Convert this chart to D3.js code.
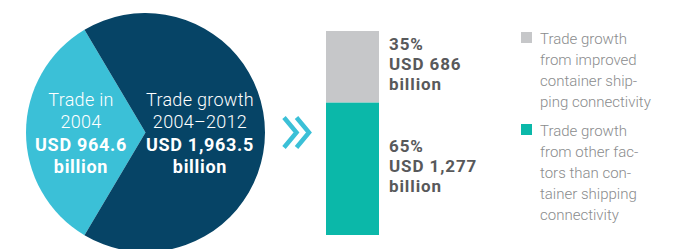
<!DOCTYPE html>
<html>
<head>
<meta charset="utf-8">
<script src="https://cdn.jsdelivr.net/npm/d3@7"></script>
<style>
  html, body { margin: 0; padding: 0; background: #fff; }
  svg { display: block; }
</style>
</head>
<body>
<svg></svg>
<script>
// pie: trade in 2004 vs trade growth 2004-2012
const pieNames = ['Trade in 2004', 'Trade growth 2004–2012'];
const pieValues = [964.6, 1963.5];
const pieLines = [
  ['Trade in', '2004', 'USD 964.6', 'billion'],
  ['Trade growth', '2004–2012', 'USD 1,963.5', 'billion']
];

// stacked bar: split of the growth
const barKeys = ['other', 'connectivity'];
const barShares = [65, 35];
const barLines = [
  ['65%', 'USD 1,277', 'billion'],
  ['35%', 'USD 686', 'billion']
];

const legendLines = [
  ['Trade growth', 'from improved', 'container ship-', 'ping connectivity'],
  ['Trade growth', 'from other fac-', 'tors than con-', 'tainer shipping', 'connectivity']
];
const legendKeys = ['connectivity', 'other'];

const colors = {
  pieLight: '#3bc0d7',
  pieDark: '#064466',
  other: '#0bb8a9',
  connectivity: '#c6c7c9'
};

const width = 687, height = 249;
const svg = d3.select('svg').attr('width', width).attr('height', height);
const font = 'Roboto, "Open Sans", sans-serif';

// ---- pie ----
const cx = 145.5, cy = 132.5, r = 119.5;
const lightAngle = 2 * Math.PI * pieValues[0] / d3.sum(pieValues);
const start = -Math.PI / 2 - lightAngle / 2;
const pie = d3.pie().sort(null).startAngle(start).endAngle(start + 2 * Math.PI);
const arc = d3.arc().innerRadius(0).outerRadius(r);

const pieG = svg.append('g').attr('transform', `translate(${cx},${cy})`);
pieG.selectAll('path')
  .data(pie(pieValues))
  .enter()
  .append('path')
  .attr('d', arc)
  .attr('fill', (d, i) => i === 0 ? colors.pieLight : colors.pieDark);

// labels inside pie
const pieLabelX = [81 - cx, 200 - cx];
pieLines.forEach((lines, i) => {
  const t = pieG.append('text')
    .attr('text-anchor', 'middle')
    .attr('font-family', font)
    .attr('font-size', 18)
    .attr('fill', '#fff');
  lines.forEach((ln, j) => {
    t.append('tspan')
      .attr('x', pieLabelX[i])
      .attr('y', 106 - cy + j * 22.3)
      .attr('font-weight', j >= 2 ? 700 : 300)
      .attr('letter-spacing', j >= 2 ? 0.7 : 0.3)
      .text(ln);
  });
});

// ---- chevrons ----
const chev = svg.append('g')
  .attr('fill', 'none')
  .attr('stroke', colors.pieLight)
  .attr('stroke-width', 4.5);
[0, 12.5].forEach(dx => {
  const p = d3.path();
  p.moveTo(284 + dx, 117.5);
  p.lineTo(296.5 + dx, 132.5);
  p.lineTo(284 + dx, 147.5);
  chev.append('path').attr('d', p.toString());
});

// ---- stacked bar ----
const y = d3.scaleLinear().domain([0, 100]).range([235, 31]);
const barX = 326, barW = 53;
const stackRow = {};
barKeys.forEach((k, i) => stackRow[k] = barShares[i]);
const series = d3.stack().keys(barKeys)([stackRow]);

svg.append('g').selectAll('rect')
  .data(series)
  .enter()
  .append('rect')
  .attr('x', barX)
  .attr('width', barW)
  .attr('y', d => y(d[0][1]))
  .attr('height', d => y(d[0][0]) - y(d[0][1]))
  .attr('fill', d => colors[d.key]);

series.forEach((s, i) => {
  const mid = (y(s[0][0]) + y(s[0][1])) / 2;
  const t = svg.append('text')
    .attr('font-family', font)
    .attr('font-size', 17)
    .attr('font-weight', 700)
    .attr('letter-spacing', 0.9)
    .attr('fill', '#58595b');
  barLines[i].forEach((ln, j) => {
    t.append('tspan')
      .attr('x', 389)
      .attr('y', mid + 3.5 + (j - 1) * 20)
      .text(ln);
  });
});

// ---- legend ----
const legendTop = [32, 124];
legendKeys.forEach((k, i) => {
  const g = svg.append('g').attr('transform', `translate(521,${legendTop[i]})`);
  g.append('rect').attr('width', 11).attr('height', 11).attr('fill', colors[k]);
  const t = g.append('text')
    .attr('font-family', font)
    .attr('font-size', 15)
    .attr('font-weight', 300)
    .attr('fill', '#8a8b8d');
  legendLines[i].forEach((ln, j) => {
    t.append('tspan')
      .attr('x', 19)
      .attr('y', 12 + j * 21)
      .text(ln);
  });
});
</script>
</body>
</html>
